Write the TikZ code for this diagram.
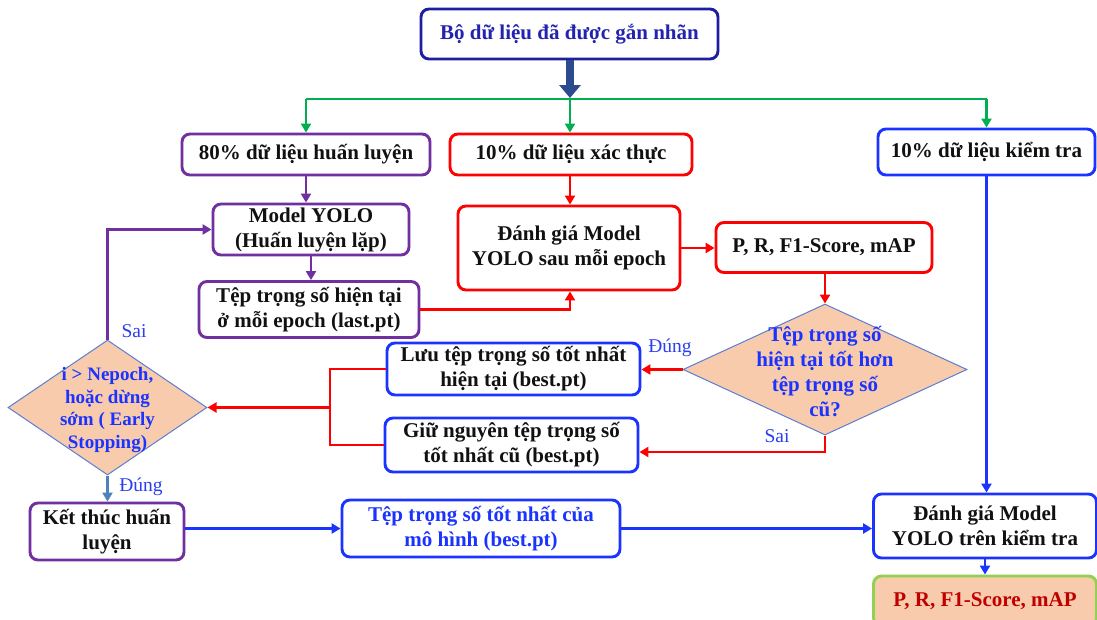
\documentclass[tikz,border=0pt]{standalone}
\usepackage{fontspec}
\setmainfont{Liberation Serif}
\usetikzlibrary{arrows.meta,shapes.geometric,calc}
\definecolor{cpurple}{HTML}{7030A0}
\definecolor{cred}{HTML}{FF0000}
\definecolor{cblue}{HTML}{1A33FF}
\definecolor{cnavy}{HTML}{1E1EA0}
\definecolor{ctoptext}{HTML}{2323B0}
\definecolor{cgreen}{HTML}{00B050}
\definecolor{cfat}{HTML}{2C4B8E}
\definecolor{cpeach}{HTML}{F8CBAD}
\definecolor{cdborder}{HTML}{5B7FD0}
\definecolor{csteel}{HTML}{4F81BD}
\definecolor{clime}{HTML}{92D050}
\definecolor{cdarkred}{HTML}{C00000}
\definecolor{ctext}{HTML}{111111}
\definecolor{clabel}{HTML}{2B3FF0}
\tikzset{
  box/.style={draw, rounded corners=8pt, line width=2.9pt, fill=white, align=center,
    inner sep=0pt, text=ctext, font=\bfseries\fontsize{21}{25}\selectfont},
  conn/.style={line width=2.7pt, -{Triangle[length=9pt,width=10pt]}},
  plain/.style={line width=2.7pt},
  dshape/.style={diamond, draw=cdborder, line width=1pt, fill=cpeach, inner sep=0pt},
  dtext/.style={align=center, text=cblue, inner sep=0pt},
  lab/.style={text=clabel, inner sep=0pt, font=\fontsize{19.5}{22}\selectfont}
}
\begin{document}
\begin{tikzpicture}[x=1pt,y=-1pt]
\useasboundingbox (0,0) rectangle (1097,619);
\fill[white] (0,0) rectangle (1097,619);
\begin{scope}
\clip (0,0) rectangle (1097,619);

% nodes
\node[box, draw=cnavy, text=ctoptext, minimum width=297pt, minimum height=50pt] (top) at (569.5,34) {Bộ dữ liệu đã được gắn nhãn};
\node[box, draw=cpurple, minimum width=248pt, minimum height=41pt] (train) at (306,154.5) {80\% dữ liệu huấn luyện};
\node[box, draw=cred, minimum width=242pt, minimum height=41pt] (val) at (571,154.5) {10\% dữ liệu xác thực};
\node[box, draw=cblue, minimum width=217pt, minimum height=46pt] (test) at (986.5,152) {10\% dữ liệu kiểm tra};
\node[box, draw=cpurple, minimum width=196pt, minimum height=51pt] (model) at (311,229.5) {Model YOLO\\(Huấn luyện lặp)};
\node[box, draw=cpurple, minimum width=220pt, minimum height=56pt] (last) at (309,309.5) {Tệp trọng số hiện tại\\ở mỗi epoch (last.pt)};
\node[box, draw=cred, minimum width=222pt, minimum height=84pt] (eval) at (569,248) {Đánh giá Model\\YOLO sau mỗi epoch};
\node[box, draw=cred, minimum width=216pt, minimum height=50pt] (prf) at (824,247.5) {P, R, F1-Score, mAP};

\node[dshape, minimum width=284pt, minimum height=131pt] (d1) at (825,369.5) {};
\node[dtext, font=\bfseries\fontsize{21}{25}\selectfont] (d1t) at (825,372) {Tệp trọng số\\hiện tại tốt hơn\\tệp trọng số\\cũ?};

\node[box, draw=cblue, minimum width=253pt, minimum height=52pt] (save) at (513.5,369) {Lưu tệp trọng số tốt nhất\\hiện tại (best.pt)};
\node[box, draw=cblue, minimum width=253pt, minimum height=54pt] (keep) at (511.5,445) {Giữ nguyên tệp trọng số\\tốt nhất cũ (best.pt)};

\node[dshape, minimum width=199pt, minimum height=135pt] (d2) at (107.5,407.5) {};
\node[dtext, font=\bfseries\fontsize{19}{22.5}\selectfont] (d2t) at (107.5,410) {i > Nepoch,\\hoặc dừng\\sớm ( Early\\Stopping)};

\node[box, draw=cpurple, minimum width=154pt, minimum height=57pt] (end) at (107,531.5) {Kết thúc huấn\\luyện};
\node[box, draw=cblue, text=cblue, minimum width=278pt, minimum height=57pt] (best) at (481,528.5) {Tệp trọng số tốt nhất của\\mô hình (best.pt)};
\node[box, draw=cblue, minimum width=223pt, minimum height=64pt] (evaltest) at (985,526) {Đánh giá Model\\YOLO trên kiểm tra};
\node[box, draw=clime, fill=cpeach, text=cdarkred, minimum width=223pt, minimum height=50pt] (final) at (985,601) {P, R, F1-Score, mAP};

% labels
\node[lab] (lsai1) at (134,331) {Sai};
\node[lab] (ldung2) at (141,487) {Đúng};
\node[lab] (ldung1) at (670,348) {Đúng};
\node[lab] (lsai2) at (777,436) {Sai};

% fat arrow
\coordinate (split) at (570,99);
\draw[cfat, line width=8pt, -{Triangle[length=13pt,width=21pt]}] (top.south -| split) -- ([yshift=1pt]split);

% green distribution
\draw[cgreen, plain] (split -| train.north) -- (split -| test.north);
\draw[cgreen, conn] (split -| train.north) -- (train.north);
\draw[cgreen, conn] (split) -- (split |- val.north);
\draw[cgreen, conn] (split -| test.north) -- (test.north);

% purple
\draw[cpurple, conn] (train.south) -- (train.south |- model.north);
\draw[cpurple, conn] (model.south) -- (model.south |- last.north);
\draw[cpurple, conn] (d2.north) |- (model.west);

% red
\draw[cred, conn] (val.south -| split) -- (eval.north -| split);
\draw[cred, conn] (last.east) -| (eval.south -| split);
\draw[cred, conn] (eval.east) -- (eval.east -| prf.west);
\draw[cred, conn] (prf.south -| d1.north) -- (d1.north);
\draw[cred, conn] (d1.west) -- (d1.west -| save.east);
\draw[cred, conn] (d1.south) |- ([yshift=-7pt]keep.east);
\coordinate (j) at (330,407.5);
\draw[cred, plain] (save.west) -| (j) |- (keep.west);
\draw[cred, conn] (j) -- (d2.east);

% bottom
\draw[csteel, conn] (d2.south) -- (d2.south |- end.north);
\draw[cblue, conn] (end.east |- best.west) -- (best.west);
\draw[cblue, conn] (best.east) -- (best.east -| evaltest.west);
\draw[cblue, conn] (test.south) -- (test.south |- evaltest.north);
\draw[cblue, conn] (evaltest.south) -- (evaltest.south |- final.north);
\end{scope}
\end{tikzpicture}
\end{document}
